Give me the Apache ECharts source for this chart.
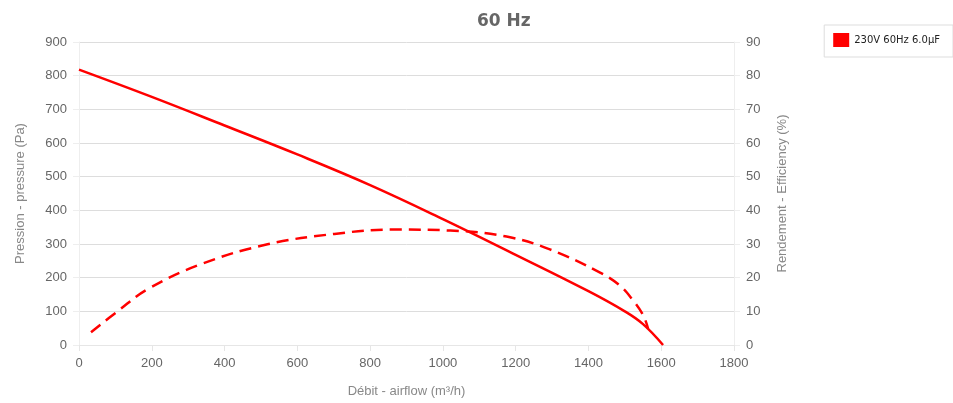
<!DOCTYPE html>
<html>
<head>
<meta charset="utf-8">
<script src="https://cdn.jsdelivr.net/npm/echarts@6/dist/echarts.min.js"></script>
<style>html,body{margin:0;padding:0;background:#fff}#c{width:953px;height:403px}</style>
</head>
<body>
<div id="c"></div>
<script>
var titleText = '60 Hz';
var seriesName = '230V 60Hz 6.0µF';
var flowP = [0, 200, 400, 600, 800, 1000, 1200, 1400, 1500, 1550, 1605];
var pressure = [818, 737, 652, 566, 475, 374, 268, 160, 100, 62, 0];
var flowE = [33, 106, 189, 335, 518, 702, 866, 1020, 1175, 1294, 1432, 1487, 1523, 1551, 1564];
var efficiency = [3.8, 10.0, 16.6, 24.0, 29.9, 33.0, 34.3, 34.0, 32.2, 28.4, 21.5, 17.6, 13.2, 8.7, 4.8];
var xName = 'Débit - airflow (m³/h)';
var yLeftName = 'Pression - pressure (Pa)';
var yRightName = 'Rendement - Efficiency (%)';

function pairs(xs, ys){ return xs.map(function(x,i){ return [x, ys[i]]; }); }

var chart = echarts.init(document.getElementById('c'), null, {renderer:'canvas'});
var labelStyle = {color:'#666', fontSize:13, fontFamily:'Liberation Sans, Arial, sans-serif'};
var nameStyle = {color:'#888', fontSize:13, fontFamily:'Liberation Sans, Arial, sans-serif'};
chart.setOption({
  animation:false,
  backgroundColor:'#fff',
  title:{text:titleText, left:472, top:8, textStyle:{color:'#666', fontSize:17, fontWeight:'bold', fontFamily:'DejaVu Sans, sans-serif'}},
  legend:{
    right:0, top:25, orient:'vertical',
    borderColor:'#ddd', borderWidth:1, padding:[8,13,10,9],
    itemWidth:16, itemHeight:14, itemGap:4,
    icon:'rect',
    textStyle:{color:'#222', fontSize:10, fontFamily:'DejaVu Sans, sans-serif', padding:[-6,0,0,0]},
    data:[{name:seriesName}]
  },
  grid:{left:79, right:219, top:42, bottom:57, containLabel:false},
  xAxis:{
    type:'value', min:0, max:1800, interval:200,
    name:xName, nameLocation:'middle', nameGap:40, nameTextStyle:nameStyle,
    axisLine:{show:true, lineStyle:{color:'#e6e6e6'}},
    axisTick:{show:true, length:6, lineStyle:{color:'#e6e6e6'}},
    axisLabel:Object.assign({margin:12, formatter:function(v){return String(v);}}, labelStyle),
    splitLine:{show:false}
  },
  yAxis:[{
    type:'value', min:0, max:900, interval:100, position:'left',
    name:yLeftName, nameLocation:'middle', nameGap:52, nameRotate:90, nameTextStyle:nameStyle,
    axisLine:{show:true, lineStyle:{color:'#eeeeee'}},
    axisTick:{show:true, length:6, lineStyle:{color:'#eeeeee'}},
    axisLabel:Object.assign({margin:12}, labelStyle),
    splitLine:{show:true, lineStyle:{color:'#dddddd'}}
  },{
    type:'value', min:0, max:90, interval:10, position:'right',
    name:yRightName, nameLocation:'middle', nameGap:42, nameRotate:90, nameTextStyle:nameStyle,
    axisLine:{show:true, lineStyle:{color:'#eeeeee'}},
    axisTick:{show:true, length:6, lineStyle:{color:'#eeeeee'}},
    axisLabel:Object.assign({margin:12}, labelStyle),
    splitLine:{show:false}
  }],
  series:[{
    name:seriesName, type:'line', yAxisIndex:0, smooth:0.4, showSymbol:false,
    data:pairs(flowP, pressure),
    itemStyle:{color:'#ff0000'},
    lineStyle:{color:'#ff0000', width:2.5}
  },{
    name:seriesName, type:'line', yAxisIndex:1, smooth:0.4, showSymbol:false,
    data:pairs(flowE, efficiency),
    itemStyle:{color:'#ff0000'},
    lineStyle:{color:'#ff0000', width:2.5, type:[12,7]}
  }]
});
</script>
</body>
</html>
